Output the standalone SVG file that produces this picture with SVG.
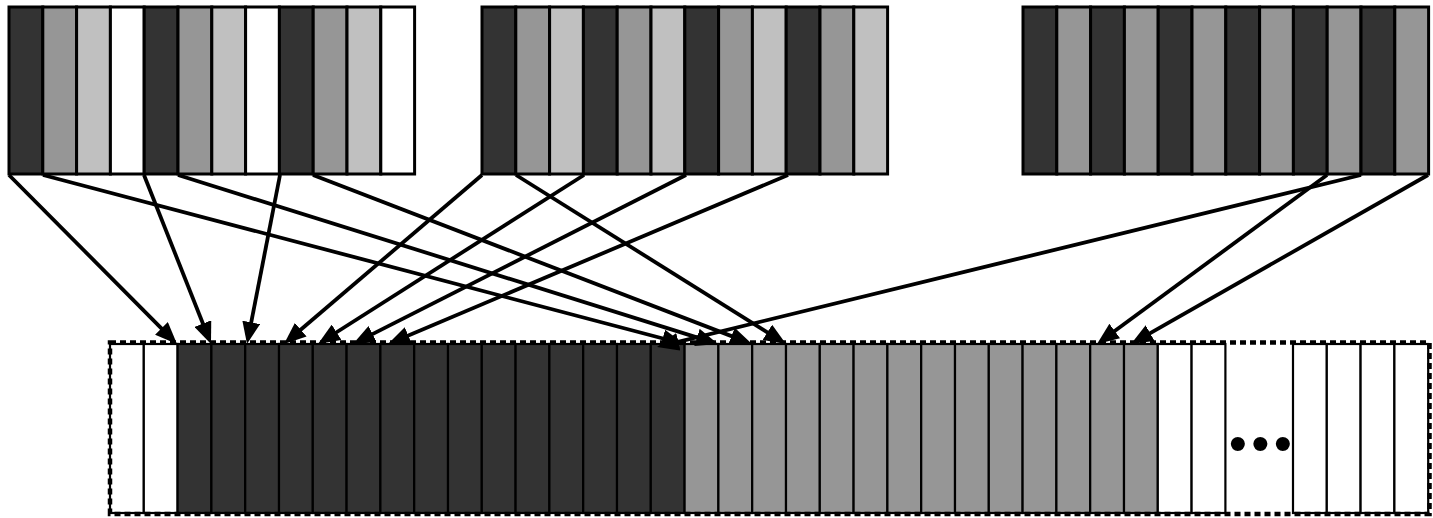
<svg xmlns="http://www.w3.org/2000/svg" width="1433" height="518" viewBox="0 0 1433 518">
  <style>
    .d { fill: #333333; }
    .m { fill: #969696; }
    .l { fill: #c0c0c0; }
    .w { fill: #ffffff; }
    .top rect { stroke: #000; stroke-width: 3; }
    .bot rect { stroke: #000; stroke-width: 2.2; }
    .frame { fill: none; stroke: #000; stroke-width: 4.5; stroke-dasharray: 6 4; }
    .conn line { stroke: #000; stroke-width: 3.8; fill: none; marker-end: url(#head); }
    .dots { font-family: "Liberation Sans", Arial, sans-serif; font-size: 52px; fill: #000; letter-spacing: 4.3px; }
  </style>
  <defs>
    <marker id="head" viewBox="0 0 22 18" markerWidth="22" markerHeight="18" refX="14" refY="9" orient="auto" markerUnits="userSpaceOnUse">
      <path d="M0,0 L22,9 L0,18 z" fill="#000"/>
    </marker>
  </defs>

  <rect width="1433" height="518" fill="#fff"/>

  <!-- source block 1: dark / mid / light / white repeated -->
  <g id="block1" class="top">
    <rect class="d" x="9" y="7" width="33.8" height="167"/>
    <rect class="m" x="42.8" y="7" width="33.8" height="167"/>
    <rect class="l" x="76.6" y="7" width="33.8" height="167"/>
    <rect class="w" x="110.4" y="7" width="33.8" height="167"/>
    <rect class="d" x="144.2" y="7" width="33.8" height="167"/>
    <rect class="m" x="178" y="7" width="33.8" height="167"/>
    <rect class="l" x="211.8" y="7" width="33.8" height="167"/>
    <rect class="w" x="245.6" y="7" width="33.8" height="167"/>
    <rect class="d" x="279.4" y="7" width="33.8" height="167"/>
    <rect class="m" x="313.2" y="7" width="33.8" height="167"/>
    <rect class="l" x="347" y="7" width="33.8" height="167"/>
    <rect class="w" x="380.8" y="7" width="33.8" height="167"/>
  </g>

  <!-- source block 2: dark / mid / light repeated -->
  <g id="block2" class="top">
    <rect class="d" x="482" y="7" width="33.8" height="167"/>
    <rect class="m" x="515.8" y="7" width="33.8" height="167"/>
    <rect class="l" x="549.6" y="7" width="33.8" height="167"/>
    <rect class="d" x="583.4" y="7" width="33.8" height="167"/>
    <rect class="m" x="617.2" y="7" width="33.8" height="167"/>
    <rect class="l" x="651" y="7" width="33.8" height="167"/>
    <rect class="d" x="684.8" y="7" width="33.8" height="167"/>
    <rect class="m" x="718.6" y="7" width="33.8" height="167"/>
    <rect class="l" x="752.4" y="7" width="33.8" height="167"/>
    <rect class="d" x="786.2" y="7" width="33.8" height="167"/>
    <rect class="m" x="820" y="7" width="33.8" height="167"/>
    <rect class="l" x="853.8" y="7" width="33.8" height="167"/>
  </g>

  <!-- source block 3: dark / mid repeated -->
  <g id="block3" class="top">
    <rect class="d" x="1023" y="7" width="33.8" height="167"/>
    <rect class="m" x="1056.8" y="7" width="33.8" height="167"/>
    <rect class="d" x="1090.6" y="7" width="33.8" height="167"/>
    <rect class="m" x="1124.4" y="7" width="33.8" height="167"/>
    <rect class="d" x="1158.2" y="7" width="33.8" height="167"/>
    <rect class="m" x="1192" y="7" width="33.8" height="167"/>
    <rect class="d" x="1225.8" y="7" width="33.8" height="167"/>
    <rect class="m" x="1259.6" y="7" width="33.8" height="167"/>
    <rect class="d" x="1293.4" y="7" width="33.8" height="167"/>
    <rect class="m" x="1327.2" y="7" width="33.8" height="167"/>
    <rect class="d" x="1361" y="7" width="33.8" height="167"/>
    <rect class="m" x="1394.8" y="7" width="33.8" height="167"/>
  </g>

  <!-- destination buffer -->
  <g id="buffer">
    <g class="bot">
      <rect class="w" x="110" y="344" width="33.8" height="169"/>
      <rect class="w" x="143.8" y="344" width="33.8" height="169"/>
      <rect class="d" x="177.6" y="344" width="33.8" height="169"/>
      <rect class="d" x="211.4" y="344" width="33.8" height="169"/>
      <rect class="d" x="245.2" y="344" width="33.8" height="169"/>
      <rect class="d" x="279" y="344" width="33.8" height="169"/>
      <rect class="d" x="312.8" y="344" width="33.8" height="169"/>
      <rect class="d" x="346.6" y="344" width="33.8" height="169"/>
      <rect class="d" x="380.4" y="344" width="33.8" height="169"/>
      <rect class="d" x="414.2" y="344" width="33.8" height="169"/>
      <rect class="d" x="448" y="344" width="33.8" height="169"/>
      <rect class="d" x="481.8" y="344" width="33.8" height="169"/>
      <rect class="d" x="515.6" y="344" width="33.8" height="169"/>
      <rect class="d" x="549.4" y="344" width="33.8" height="169"/>
      <rect class="d" x="583.2" y="344" width="33.8" height="169"/>
      <rect class="d" x="617" y="344" width="33.8" height="169"/>
      <rect class="d" x="650.8" y="344" width="33.8" height="169"/>
      <rect class="m" x="684.6" y="344" width="33.8" height="169"/>
      <rect class="m" x="718.4" y="344" width="33.8" height="169"/>
      <rect class="m" x="752.2" y="344" width="33.8" height="169"/>
      <rect class="m" x="786" y="344" width="33.8" height="169"/>
      <rect class="m" x="819.8" y="344" width="33.8" height="169"/>
      <rect class="m" x="853.6" y="344" width="33.8" height="169"/>
      <rect class="m" x="887.4" y="344" width="33.8" height="169"/>
      <rect class="m" x="921.2" y="344" width="33.8" height="169"/>
      <rect class="m" x="955" y="344" width="33.8" height="169"/>
      <rect class="m" x="988.8" y="344" width="33.8" height="169"/>
      <rect class="m" x="1022.6" y="344" width="33.8" height="169"/>
      <rect class="m" x="1056.4" y="344" width="33.8" height="169"/>
      <rect class="m" x="1090.2" y="344" width="33.8" height="169"/>
      <rect class="m" x="1124" y="344" width="33.8" height="169"/>
      <rect class="w" x="1157.8" y="344" width="33.8" height="169"/>
      <rect class="w" x="1191.6" y="344" width="33.8" height="169"/>
      <rect class="w" x="1293" y="344" width="33.8" height="169"/>
      <rect class="w" x="1326.8" y="344" width="33.8" height="169"/>
      <rect class="w" x="1360.6" y="344" width="33.8" height="169"/>
      <rect class="w" x="1394.4" y="344" width="33.8" height="169"/>
    </g>
    <rect class="frame" x="110" y="342.5" width="1319.5" height="171.5"/>
    <text class="dots" x="1228.7" y="461">•••</text>
  </g>

  <!-- connectors -->
  <g id="connectors" class="conn">
    <line x1="9" y1="175" x2="171.34" y2="338.34"/>
    <line x1="43" y1="175" x2="676.26" y2="341.97"/>
    <line x1="144" y1="175" x2="208.04" y2="336.57"/>
    <line x1="178" y1="175" x2="710.36" y2="341.62"/>
    <line x1="280" y1="175" x2="248.54" y2="336.15"/>
    <line x1="313" y1="175" x2="744.53" y2="341.14"/>
    <line x1="482" y1="175" x2="290.10" y2="338.82"/>
    <line x1="516" y1="175" x2="779.21" y2="339.77"/>
    <line x1="584" y1="175" x2="324.76" y2="339.73"/>
    <line x1="686" y1="175" x2="360.14" y2="340.40"/>
    <line x1="788" y1="175" x2="395.38" y2="340.90"/>
    <line x1="1327" y1="175" x2="1103.46" y2="339.28"/>
    <line x1="1361" y1="175" x2="664.77" y2="345.11"/>
    <line x1="1428" y1="175" x2="1137.96" y2="340.06"/>
  </g>
</svg>
